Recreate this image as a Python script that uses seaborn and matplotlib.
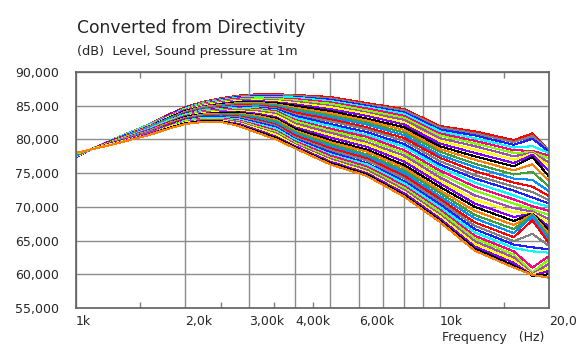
import matplotlib
matplotlib.use("Agg")
import matplotlib.pyplot as plt
from matplotlib.ticker import FixedLocator, NullFormatter
import numpy as np
import pandas as pd
import seaborn as sns

#%% Data: level (dB) of each directivity curve, one list per frequency (curve 0 = top)
freqs = [1000, 1250, 1600, 1800, 2000, 2240, 2500, 2800, 3150, 3550, 4000,
         5000, 6300, 8000, 10000, 12500, 16000, 18000, 20000]

lvl_1000 = [77.4, 77.4, 77.4, 77.5, 77.5, 77.5, 77.5, 77.5, 77.6, 77.6, 77.6, 77.6,
            77.6, 77.7, 77.7, 77.7, 77.7, 77.7, 77.7, 77.7, 77.8, 77.8, 77.8, 77.8,
            77.8, 77.8, 77.9, 77.9, 77.9, 77.9, 77.9, 77.9, 78.0, 78.0, 78.0, 78.0, 78.0]
lvl_1250 = [79.9, 79.9, 79.9, 79.9, 79.8, 79.8, 79.8, 79.8, 79.8, 79.7, 79.7, 79.7,
            79.7, 79.7, 79.6, 79.6, 79.6, 79.6, 79.6, 79.5, 79.5, 79.5, 79.5, 79.5,
            79.4, 79.4, 79.4, 79.4, 79.4, 79.3, 79.3, 79.3, 79.3, 79.3, 79.2, 79.2, 79.2]
lvl_1600 = [82.3, 82.3, 82.2, 82.2, 82.1, 82.1, 82.0, 82.0, 82.0, 81.9, 81.9, 81.8,
            81.8, 81.7, 81.7, 81.6, 81.6, 81.5, 81.5, 81.5, 81.4, 81.4, 81.3, 81.3,
            81.2, 81.2, 81.1, 81.1, 81.0, 81.0, 81.0, 80.9, 80.9, 80.8, 80.8, 80.7, 80.7]
lvl_1800 = [83.7, 83.6, 83.6, 83.5, 83.5, 83.4, 83.4, 83.3, 83.2, 83.2, 83.1, 83.1,
            83.0, 82.9, 82.9, 82.8, 82.8, 82.7, 82.7, 82.6, 82.5, 82.5, 82.4, 82.4,
            82.3, 82.2, 82.2, 82.1, 82.1, 82.0, 82.0, 81.9, 81.8, 81.8, 81.7, 81.7, 81.6]
lvl_2000 = [84.8, 84.7, 84.7, 84.6, 84.5, 84.5, 84.4, 84.3, 84.3, 84.2, 84.1, 84.0,
            84.0, 83.9, 83.8, 83.8, 83.7, 83.6, 83.6, 83.5, 83.4, 83.4, 83.3, 83.2,
            83.1, 83.1, 83.0, 82.9, 82.9, 82.8, 82.7, 82.7, 82.6, 82.5, 82.4, 82.4, 82.3]
lvl_2240 = [85.6, 85.5, 85.4, 85.4, 85.3, 85.2, 85.1, 85.0, 84.9, 84.8, 84.8, 84.7,
            84.6, 84.5, 84.4, 84.3, 84.3, 84.2, 84.1, 84.0, 83.9, 83.8, 83.8, 83.7,
            83.6, 83.5, 83.4, 83.3, 83.3, 83.2, 83.1, 83.0, 82.9, 82.8, 82.8, 82.7, 82.6]
lvl_2500 = [86.1, 86.0, 85.9, 85.8, 85.7, 85.6, 85.5, 85.4, 85.3, 85.2, 85.1, 85.0,
            84.9, 84.8, 84.7, 84.6, 84.5, 84.4, 84.3, 84.2, 84.1, 84.0, 83.9, 83.8,
            83.7, 83.6, 83.5, 83.4, 83.3, 83.2, 83.1, 83.0, 82.9, 82.8, 82.7, 82.7, 82.6]
lvl_2800 = [86.5, 86.4, 86.3, 86.2, 86.1, 85.9, 85.8, 85.7, 85.6, 85.5, 85.4, 85.3,
            85.2, 85.1, 85.0, 84.8, 84.7, 84.6, 84.5, 84.4, 84.2, 84.1, 84.0, 83.8,
            83.7, 83.5, 83.4, 83.3, 83.1, 83.0, 82.8, 82.7, 82.6, 82.4, 82.3, 82.1, 82.0]
lvl_3150 = [86.7, 86.6, 86.4, 86.3, 86.2, 86.1, 85.9, 85.8, 85.7, 85.5, 85.4, 85.3,
            85.1, 85.0, 84.9, 84.7, 84.6, 84.5, 84.4, 84.2, 84.0, 83.8, 83.6, 83.5,
            83.3, 83.1, 82.9, 82.7, 82.5, 82.3, 82.1, 81.9, 81.7, 81.6, 81.4, 81.2, 81.0]
lvl_3550 = [86.7, 86.6, 86.4, 86.3, 86.1, 86.0, 85.8, 85.7, 85.5, 85.4, 85.2, 85.1,
            84.9, 84.8, 84.6, 84.5, 84.3, 84.2, 84.0, 83.8, 83.6, 83.3, 83.1, 82.9,
            82.7, 82.4, 82.2, 82.0, 81.8, 81.6, 81.3, 81.1, 80.9, 80.7, 80.4, 80.2, 80.0]
lvl_4000 = [86.6, 86.5, 86.3, 86.2, 86.0, 85.8, 85.6, 85.4, 85.2, 85.0, 84.7, 84.5,
            84.2, 84.0, 83.7, 83.5, 83.2, 82.9, 82.7, 82.4, 82.1, 81.8, 81.6, 81.3,
            81.1, 80.8, 80.6, 80.3, 80.1, 79.9, 79.7, 79.5, 79.3, 79.1, 79.0, 78.8, 78.7]
lvl_5000 = [86.3, 86.1, 85.9, 85.7, 85.5, 85.3, 85.0, 84.8, 84.5, 84.2, 83.9, 83.6,
            83.3, 83.0, 82.7, 82.3, 82.0, 81.6, 81.3, 81.0, 80.6, 80.3, 79.9, 79.6,
            79.3, 79.0, 78.7, 78.4, 78.1, 77.8, 77.6, 77.3, 77.1, 76.9, 76.7, 76.5, 76.3]
lvl_6300 = [85.4, 85.2, 85.0, 84.8, 84.6, 84.3, 84.0, 83.8, 83.5, 83.1, 82.8, 82.5,
            82.2, 81.8, 81.5, 81.1, 80.7, 80.4, 80.0, 79.6, 79.3, 78.9, 78.5, 78.2,
            77.8, 77.5, 77.2, 76.9, 76.5, 76.3, 76.0, 75.7, 75.5, 75.2, 75.0, 74.8, 74.6]
lvl_8000 = [84.5, 84.3, 84.0, 83.8, 83.5, 83.2, 82.9, 82.5, 82.2, 81.8, 81.4, 81.0,
            80.6, 80.2, 79.8, 79.3, 78.9, 78.4, 78.0, 77.6, 77.1, 76.7, 76.2, 75.8,
            75.4, 75.0, 74.6, 74.2, 73.8, 73.5, 73.1, 72.8, 72.5, 72.2, 72.0, 71.7, 71.5]
lvl_10000 = [82.0, 81.8, 81.5, 81.2, 80.9, 80.6, 80.2, 79.8, 79.4, 79.0, 78.6, 78.2,
             77.7, 77.3, 76.8, 76.3, 75.9, 75.4, 74.9, 74.4, 73.9, 73.5, 73.0, 72.5,
             72.1, 71.6, 71.2, 70.8, 70.4, 70.0, 69.6, 69.3, 68.9, 68.6, 68.3, 68.0, 67.8]
lvl_12500 = [81.2, 80.9, 80.6, 80.2, 79.8, 79.4, 79.0, 78.5, 78.0, 77.5, 77.0, 76.4,
             75.9, 75.3, 74.7, 74.2, 73.6, 73.0, 72.4, 71.7, 71.1, 70.5, 70.0, 69.4,
             68.8, 68.3, 67.7, 67.2, 66.7, 66.2, 65.7, 65.3, 64.9, 64.5, 64.1, 63.8, 63.5]
lvl_16000 = [79.9, 79.6, 79.2, 78.8, 78.4, 78.0, 77.5, 77.0, 76.5, 76.0, 75.4, 74.8,
             74.2, 73.6, 73.0, 72.4, 71.7, 71.1, 70.5, 69.8, 69.2, 68.5, 67.9, 67.3,
             66.7, 66.1, 65.5, 64.9, 64.4, 63.9, 63.4, 62.9, 62.5, 62.1, 61.7, 61.3, 61.0]
lvl_18000 = [80.9, 80.5, 80.1, 79.0, 78.3, 78.1, 78.0, 77.9, 77.7, 77.4, 76.3, 75.2,
             74.0, 73.0, 72.2, 71.4, 70.7, 70.1, 69.6, 69.3, 69.1, 69.0, 69.0, 68.9,
             68.8, 68.6, 68.0, 66.0, 64.0, 63.4, 61.0, 60.3, 60.0, 59.9, 59.8, 59.8, 59.9]
lvl_20000 = [78.3, 78.4, 78.2, 78.0, 77.6, 77.2, 76.6, 76.0, 75.3, 74.5, 73.8, 73.0,
             72.3, 71.6, 71.0, 70.5, 70.0, 69.4, 68.8, 68.2, 67.6, 67.0, 66.5, 66.0,
             65.5, 65.0, 64.6, 64.2, 63.7, 63.2, 62.7, 62.2, 61.6, 61.0, 60.5, 60.0, 59.5]

level_columns = [lvl_1000, lvl_1250, lvl_1600, lvl_1800, lvl_2000, lvl_2240, lvl_2500,
                 lvl_2800, lvl_3150, lvl_3550, lvl_4000, lvl_5000, lvl_6300, lvl_8000,
                 lvl_10000, lvl_12500, lvl_16000, lvl_18000, lvl_20000]

x_ticks = [1000, 2000, 3000, 4000, 5000, 6000, 7000, 8000, 9000, 10000, 20000]
x_tick_labels = ['1k', '2,0k', '3,00k', '4,00k', '', '6,00k', '', '', '', '10k', '20,0']
x_minor = [1500, 2500, 3500, 4500, 15000]
y_ticks = [55, 60, 65, 70, 75, 80, 85, 90]
y_tick_labels = ['55,000', '60,000', '65,000', '70,000', '75,000', '80,000', '85,000', '90,000']

# colour cycle of the measurement program (top curve first)
line_cycle = ['#ff0000', '#808080', '#2020ff', '#00ffff', '#ff0080', '#80ff00',
              '#a050b0', '#ffff00', '#8000ff', '#000000', '#ff8000', '#40a040',
              '#0090ff']

#%% Long table for seaborn
rows = []
for f, col in zip(freqs, level_columns):
    for k, v in enumerate(col):
        rows.append((f, v, 'c%02d' % k))
df = pd.DataFrame(rows, columns=['freq', 'level', 'curve'])
n_curves = len(lvl_1000)
colors = [line_cycle[k % len(line_cycle)] for k in range(n_curves)]

#%% Figure
sns.set_style("white")
plt.rcParams['font.family'] = ['DejaVu Sans']

fig = plt.figure(figsize=(5.78, 3.51), dpi=100)
ax = fig.add_axes([76 / 578, 1 - 308 / 351, (549 - 76) / 578, (308 - 72) / 351])

sns.lineplot(data=df, x='freq', y='level', hue='curve', palette=colors,
             legend=False, linewidth=0.75, estimator=None, antialiased=False, ax=ax)

ax.set_xscale('log')
ax.set_xlim(1000, 20000)
ax.set_ylim(55, 90)

ax.xaxis.set_major_locator(FixedLocator(x_ticks))
ax.set_xticklabels(x_tick_labels, fontsize=9)
for lbl in ax.get_xticklabels():
    lbl.set_horizontalalignment('left')
ax.xaxis.set_minor_locator(FixedLocator(x_minor))
ax.xaxis.set_minor_formatter(NullFormatter())

ax.set_yticks(y_ticks)
ax.set_yticklabels(y_tick_labels, fontsize=9)

ax.tick_params(axis='both', which='major', length=0)
ax.tick_params(axis='x', which='major', pad=5)
ax.tick_params(axis='y', which='major', pad=12)
ax.tick_params(axis='x', which='minor', direction='in', length=4, width=1,
               color='#808080', top=True, bottom=True)

ax.grid(True, which='major', axis='both', color='#8c8c8c', linewidth=1.0)
ax.set_axisbelow(True)
for s in ax.spines.values():
    s.set_color('#606060')
    s.set_linewidth(1.2)

ax.set_xlabel('')
ax.set_ylabel('')

fig.text(77 / 578, 1 - 28 / 351, 'Converted from Directivity', fontsize=12.3, va='center', ha='left')
fig.text(77 / 578, 1 - 51 / 351, '(dB)  Level, Sound pressure at 1m', fontsize=9.3, va='center', ha='left')
fig.text(442 / 578, 1 - 338 / 351, 'Frequency   (Hz)', fontsize=9, va='center', ha='left')

fig.savefig('out.png', dpi=100)
